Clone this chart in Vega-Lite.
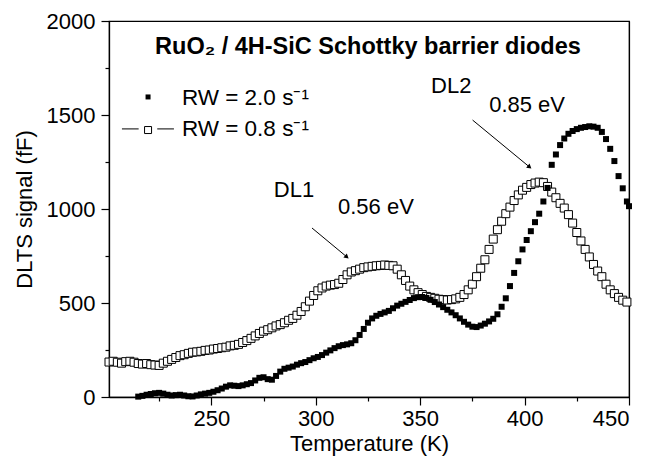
{
  "$schema": "https://vega.github.io/schema/vega-lite/v6.json",
  "width": 520,
  "height": 376,
  "autosize": {"type": "none"},
  "padding": {"left": 109, "top": 21, "right": 20, "bottom": 67},
  "background": "white",
  "resolve": {"axis": {"x": "independent", "y": "independent"}},
  "config": {
    "font": "Liberation Sans",
    "view": {"stroke": "black", "strokeWidth": 1.2},
    "axis": {
      "grid": false,
      "domainColor": "black",
      "domainWidth": 1.3,
      "tickColor": "black",
      "tickWidth": 1.2,
      "labelColor": "black",
      "labelFont": "Liberation Sans",
      "labelFontSize": 22,
      "titleColor": "black",
      "titleFont": "Liberation Sans",
      "titleFontSize": 22,
      "titleFontWeight": "normal"
    }
  },
  "datasets": {
    "one": [{}],
    "rw08": [
      {"T":201,"V":186},{"T":203,"V":190},{"T":205,"V":185},{"T":207,"V":180},{"T":209,"V":188},{"T":211,"V":190},{"T":213,"V":185},{"T":215,"V":178},{"T":217,"V":175},{"T":219,"V":178},{"T":221,"V":172},{"T":223,"V":170},{"T":225,"V":168},{"T":227,"V":180},{"T":229,"V":190},{"T":231,"V":200},{"T":233,"V":210},{"T":235,"V":220},{"T":237,"V":225},{"T":239,"V":232},{"T":241,"V":238},{"T":243,"V":240},{"T":245,"V":243},{"T":247,"V":248},{"T":249,"V":250},{"T":251,"V":255},{"T":253,"V":258},{"T":255,"V":262},{"T":257,"V":265},{"T":259,"V":272},{"T":261,"V":275},{"T":263,"V":280},{"T":265,"V":290},{"T":267,"V":300},{"T":269,"V":312},{"T":271,"V":325},{"T":273,"V":338},{"T":275,"V":350},{"T":277,"V":358},{"T":279,"V":368},{"T":281,"V":378},{"T":283,"V":385},{"T":285,"V":395},{"T":287,"V":408},{"T":289,"V":418},{"T":291,"V":435},{"T":293,"V":455},{"T":295,"V":480},{"T":297,"V":510},{"T":299,"V":540},{"T":301,"V":565},{"T":303,"V":580},{"T":305,"V":590},{"T":307,"V":595},{"T":309,"V":598},{"T":311,"V":605},{"T":313,"V":625},{"T":315,"V":650},{"T":317,"V":665},{"T":319,"V":672},{"T":321,"V":680},{"T":323,"V":688},{"T":325,"V":692},{"T":327,"V":695},{"T":329,"V":698},{"T":331,"V":700},{"T":333,"V":702},{"T":335,"V":700},{"T":337,"V":698},{"T":339,"V":680},{"T":341,"V":650},{"T":343,"V":620},{"T":345,"V":590},{"T":347,"V":570},{"T":349,"V":555},{"T":351,"V":545},{"T":353,"V":535},{"T":355,"V":530},{"T":357,"V":525},{"T":359,"V":520},{"T":361,"V":518},{"T":363,"V":516},{"T":365,"V":518},{"T":367,"V":522},{"T":369,"V":530},{"T":371,"V":545},{"T":373,"V":570},{"T":375,"V":600},{"T":377,"V":640},{"T":379,"V":685},{"T":381,"V":730},{"T":383,"V":785},{"T":385,"V":840},{"T":387,"V":890},{"T":389,"V":935},{"T":391,"V":975},{"T":393,"V":1010},{"T":395,"V":1045},{"T":397,"V":1075},{"T":399,"V":1100},{"T":401,"V":1115},{"T":403,"V":1130},{"T":405,"V":1138},{"T":407,"V":1143},{"T":409,"V":1140},{"T":411,"V":1120},{"T":413,"V":1090},{"T":415,"V":1060},{"T":417,"V":1030},{"T":419,"V":1005},{"T":421,"V":970},{"T":423,"V":925},{"T":425,"V":875},{"T":427,"V":830},{"T":429,"V":785},{"T":431,"V":745},{"T":433,"V":705},{"T":435,"V":670},{"T":437,"V":640},{"T":439,"V":600},{"T":441,"V":570},{"T":443,"V":550},{"T":445,"V":530},{"T":447,"V":515},{"T":449,"V":505}
    ],
    "rw20": [
      {"T":215,"V":2},{"T":217,"V":6},{"T":219,"V":12},{"T":221,"V":16},{"T":223,"V":20},{"T":225,"V":22},{"T":227,"V":18},{"T":229,"V":12},{"T":231,"V":8},{"T":233,"V":10},{"T":235,"V":12},{"T":237,"V":8},{"T":239,"V":4},{"T":241,"V":3},{"T":243,"V":8},{"T":245,"V":14},{"T":247,"V":18},{"T":249,"V":22},{"T":251,"V":28},{"T":253,"V":36},{"T":255,"V":45},{"T":257,"V":55},{"T":259,"V":62},{"T":261,"V":60},{"T":263,"V":58},{"T":265,"V":62},{"T":267,"V":68},{"T":269,"V":74},{"T":271,"V":88},{"T":273,"V":102},{"T":275,"V":105},{"T":277,"V":95},{"T":279,"V":92},{"T":281,"V":112},{"T":283,"V":135},{"T":285,"V":150},{"T":287,"V":156},{"T":289,"V":162},{"T":291,"V":172},{"T":293,"V":180},{"T":295,"V":186},{"T":297,"V":196},{"T":299,"V":206},{"T":301,"V":213},{"T":303,"V":223},{"T":305,"V":236},{"T":307,"V":248},{"T":309,"V":260},{"T":311,"V":270},{"T":313,"V":276},{"T":315,"V":280},{"T":317,"V":286},{"T":319,"V":302},{"T":321,"V":330},{"T":323,"V":362},{"T":325,"V":395},{"T":327,"V":418},{"T":329,"V":432},{"T":331,"V":442},{"T":333,"V":450},{"T":335,"V":458},{"T":337,"V":472},{"T":339,"V":486},{"T":341,"V":496},{"T":343,"V":506},{"T":345,"V":516},{"T":347,"V":526},{"T":349,"V":531},{"T":351,"V":532},{"T":353,"V":527},{"T":355,"V":517},{"T":357,"V":505},{"T":359,"V":492},{"T":361,"V":478},{"T":363,"V":464},{"T":365,"V":450},{"T":367,"V":435},{"T":369,"V":418},{"T":371,"V":400},{"T":373,"V":385},{"T":375,"V":374},{"T":377,"V":372},{"T":379,"V":380},{"T":381,"V":390},{"T":383,"V":402},{"T":385,"V":416},{"T":387,"V":440},{"T":389,"V":480},{"T":391,"V":525},{"T":393,"V":590},{"T":395,"V":660},{"T":397,"V":722},{"T":399,"V":785},{"T":401,"V":835},{"T":403,"V":882},{"T":405,"V":930},{"T":407,"V":975},{"T":409,"V":1040},{"T":411,"V":1112},{"T":413,"V":1235},{"T":415,"V":1290},{"T":417,"V":1340},{"T":419,"V":1375},{"T":421,"V":1400},{"T":423,"V":1415},{"T":425,"V":1425},{"T":427,"V":1432},{"T":429,"V":1436},{"T":431,"V":1440},{"T":433,"V":1438},{"T":435,"V":1432},{"T":437,"V":1410},{"T":439,"V":1372},{"T":441,"V":1320},{"T":443,"V":1255},{"T":445,"V":1175},{"T":447,"V":1110},{"T":449,"V":1040},{"T":450,"V":1015}
    ]
  },
  "layer": [
    {
      "data": {"name": "rw08"},
      "mark": {"type": "point", "shape": "square", "size": 64, "filled": true, "fill": "white", "stroke": "black", "strokeWidth": 1, "opacity": 1},
      "encoding": {
        "x": {
          "field": "T", "type": "quantitative",
          "scale": {"domain": [201, 450], "nice": false, "zero": false},
          "axis": {
            "orient": "bottom",
            "title": "Temperature (K)",
            "values": [225, 250, 275, 300, 325, 350, 375, 400, 425, 450],
            "labelExpr": "datum.value % 50 == 0 ? datum.label : ''",
            "tickSize": {"condition": {"test": "datum.value % 50 == 0", "value": 8}, "value": 4},
            "labelPadding": 3,
            "titlePadding": 4,
            "format": "d"
          }
        },
        "y": {
          "field": "V", "type": "quantitative",
          "scale": {"domain": [0, 2000], "nice": false},
          "axis": {
            "orient": "left",
            "title": "DLTS signal (fF)",
            "values": [0, 250, 500, 750, 1000, 1250, 1500, 1750, 2000],
            "labelExpr": "datum.value % 500 == 0 ? datum.label : ''",
            "tickSize": {"condition": {"test": "datum.value % 500 == 0", "value": 8}, "value": 4},
            "labelPadding": 6,
            "titlePadding": 10,
            "format": "d"
          }
        }
      }
    },
    {
      "data": {"name": "rw20"},
      "mark": {"type": "point", "shape": "square", "size": 36, "filled": true, "color": "black", "opacity": 1},
      "encoding": {
        "x": {"field": "T", "type": "quantitative", "axis": {"orient": "top", "labels": false, "ticks": false, "title": null, "domainWidth": 1.2}},
        "y": {"field": "V", "type": "quantitative", "axis": {"orient": "right", "labels": false, "ticks": false, "title": null, "domainWidth": 1.2}}
      }
    },
    {
      "data": {"name": "one"},
      "layer": [
        {
          "mark": {"type": "text", "fontSize": 23.5, "fontWeight": "bold", "font": "Liberation Sans", "align": "center", "baseline": "middle", "color": "black"},
          "encoding": {"x": {"datum": 325, "axis": null}, "y": {"datum": 1862, "axis": null}, "text": {"value": "RuO₂ / 4H-SiC Schottky barrier diodes"}}
        },
        {
          "mark": {"type": "rule", "color": "black", "strokeWidth": 1},
          "encoding": {"x": {"datum": 207.2, "axis": null}, "x2": {"datum": 215.2}, "y": {"datum": 1426, "axis": null}}
        },
        {
          "mark": {"type": "rule", "color": "black", "strokeWidth": 1},
          "encoding": {"x": {"datum": 224.1, "axis": null}, "x2": {"datum": 232.1}, "y": {"datum": 1426, "axis": null}}
        },
        {
          "mark": {"type": "point", "shape": "square", "size": 49, "filled": true, "fill": "white", "stroke": "black", "strokeWidth": 1, "opacity": 1},
          "encoding": {"x": {"datum": 219.7, "axis": null}, "y": {"datum": 1420, "axis": null}}
        },
        {
          "mark": {"type": "point", "shape": "square", "size": 25, "filled": true, "color": "black", "opacity": 1},
          "encoding": {"x": {"datum": 219.7, "axis": null}, "y": {"datum": 1596, "axis": null}}
        },
        {
          "mark": {"type": "text", "fontSize": 22.5, "font": "Liberation Sans", "align": "left", "baseline": "middle", "color": "black"},
          "encoding": {"x": {"datum": 235.9, "axis": null}, "y": {"datum": 1590, "axis": null}, "text": {"value": "RW = 2.0 s⁻¹"}}
        },
        {
          "mark": {"type": "text", "fontSize": 22.5, "font": "Liberation Sans", "align": "left", "baseline": "middle", "color": "black"},
          "encoding": {"x": {"datum": 235.9, "axis": null}, "y": {"datum": 1426, "axis": null}, "text": {"value": "RW = 0.8 s⁻¹"}}
        },
        {
          "mark": {"type": "text", "fontSize": 22, "font": "Liberation Sans", "align": "center", "baseline": "middle", "color": "black"},
          "encoding": {"x": {"datum": 289.6, "axis": null}, "y": {"datum": 1101, "axis": null}, "text": {"value": "DL1"}}
        },
        {
          "mark": {"type": "text", "fontSize": 22, "font": "Liberation Sans", "align": "center", "baseline": "middle", "color": "black"},
          "encoding": {"x": {"datum": 328.8, "axis": null}, "y": {"datum": 1008, "axis": null}, "text": {"value": "0.56 eV"}}
        },
        {
          "mark": {"type": "text", "fontSize": 22, "font": "Liberation Sans", "align": "center", "baseline": "middle", "color": "black"},
          "encoding": {"x": {"datum": 364.9, "axis": null}, "y": {"datum": 1652, "axis": null}, "text": {"value": "DL2"}}
        },
        {
          "mark": {"type": "text", "fontSize": 22, "font": "Liberation Sans", "align": "center", "baseline": "middle", "color": "black"},
          "encoding": {"x": {"datum": 401.2, "axis": null}, "y": {"datum": 1551, "axis": null}, "text": {"value": "0.85 eV"}}
        },
        {
          "mark": {"type": "rule", "color": "black", "strokeWidth": 1},
          "encoding": {"x": {"datum": 298.2, "axis": null}, "y": {"datum": 899, "axis": null}, "x2": {"datum": 314.9}, "y2": {"datum": 745}}
        },
        {
          "mark": {"type": "rule", "color": "black", "strokeWidth": 1},
          "encoding": {"x": {"datum": 375.1, "axis": null}, "y": {"datum": 1473, "axis": null}, "x2": {"datum": 402.4}, "y2": {"datum": 1223}}
        },
        {
          "mark": {"type": "point", "shape": "triangle-right", "size": 28, "filled": true, "color": "black", "opacity": 1, "angle": 40},
          "encoding": {"x": {"datum": 314.9, "axis": null}, "y": {"datum": 745, "axis": null}}
        },
        {
          "mark": {"type": "point", "shape": "triangle-right", "size": 28, "filled": true, "color": "black", "opacity": 1, "angle": 39},
          "encoding": {"x": {"datum": 402.4, "axis": null}, "y": {"datum": 1223, "axis": null}}
        }
      ]
    }
  ]
}
